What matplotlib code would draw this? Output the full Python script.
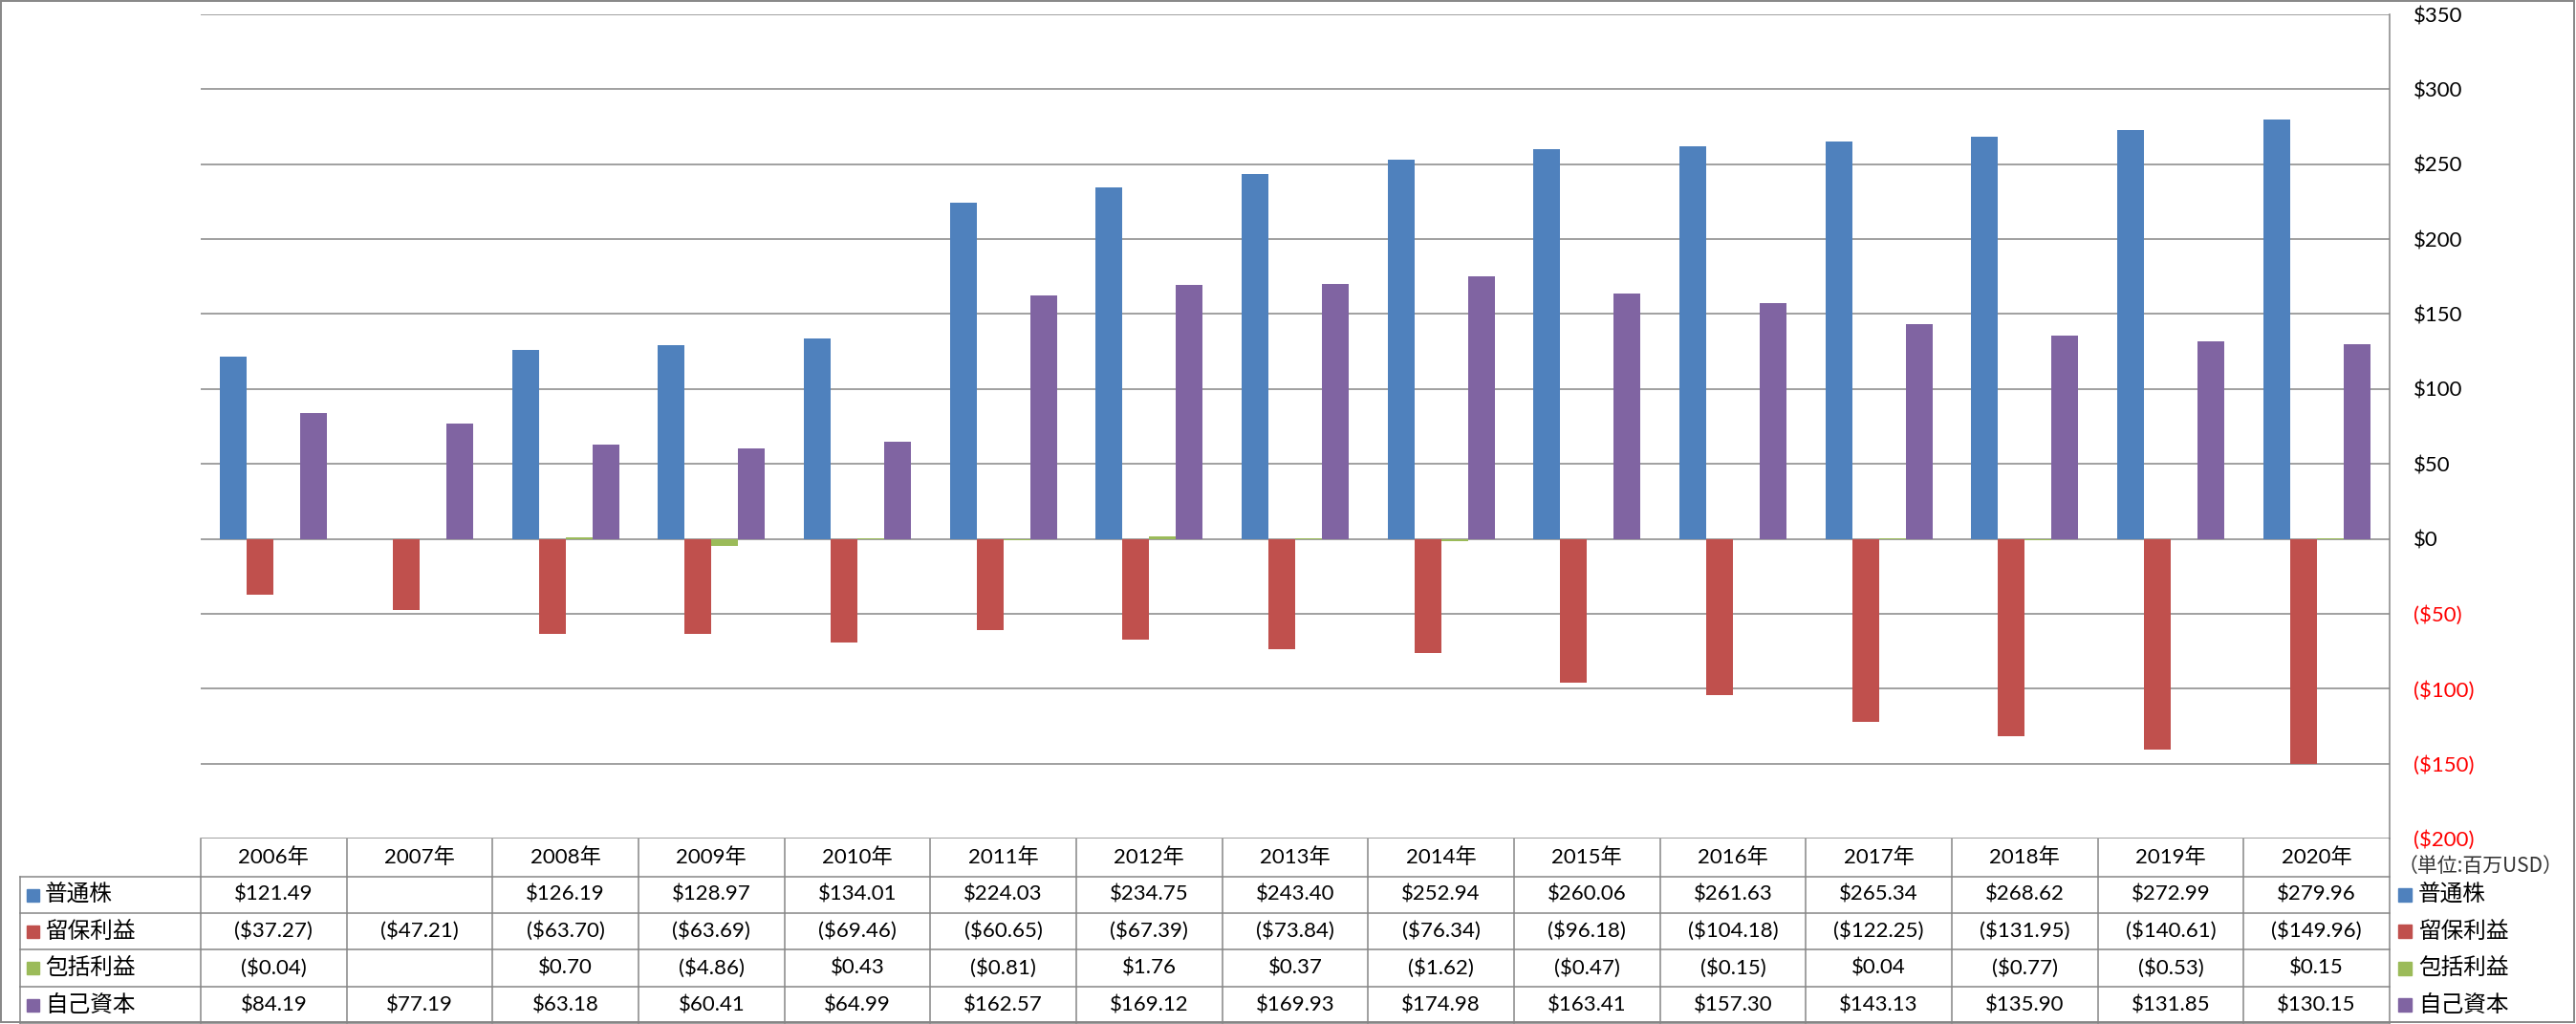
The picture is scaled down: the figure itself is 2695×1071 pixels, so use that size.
import numpy as np
import matplotlib.pyplot as plt
from matplotlib.patches import Rectangle

# データ（単位: 百万USD）
years = ['2006年', '2007年', '2008年', '2009年', '2010年', '2011年', '2012年', '2013年',
         '2014年', '2015年', '2016年', '2017年', '2018年', '2019年', '2020年']
series_names = ['普通株', '留保利益', '包括利益', '自己資本']
common_stock = [121.49, np.nan, 126.19, 128.97, 134.01, 224.03, 234.75, 243.40,
                252.94, 260.06, 261.63, 265.34, 268.62, 272.99, 279.96]
retained = [-37.27, -47.21, -63.70, -63.69, -69.46, -60.65, -67.39, -73.84,
            -76.34, -96.18, -104.18, -122.25, -131.95, -140.61, -149.96]
comprehensive = [-0.04, np.nan, 0.70, -4.86, 0.43, -0.81, 1.76, 0.37,
                 -1.62, -0.47, -0.15, 0.04, -0.77, -0.53, 0.15]
equity = [84.19, 77.19, 63.18, 60.41, 64.99, 162.57, 169.12, 169.93,
          174.98, 163.41, 157.30, 143.13, 135.90, 131.85, 130.15]
y_ticks = [-200, -150, -100, -50, 0, 50, 100, 150, 200, 250, 300, 350]

series = [common_stock, retained, comprehensive, equity]
colors = ['#4F81BD', '#C0504D', '#9BBB59', '#8064A2']
grid_c = '#868686'
num_font = ['Lato', 'Noto Sans CJK JP']
jp_font = ['Noto Sans CJK JP', 'DejaVu Sans']


def money(v):
    if np.isnan(v):
        return ''
    if v < 0:
        return '(${:,.2f})'.format(-v)
    return '${:,.2f}'.format(v)


def tick_money(v):
    if v < 0:
        return '(${:d})'.format(int(-v))
    return '${:d}'.format(int(v))


W, H = 2695, 1071
fig = plt.figure(figsize=(W / 100, H / 100), dpi=100)

# ピクセル座標で表を描くための重ね合わせ軸
ov = fig.add_axes([0, 0, 1, 1])
ov.set_xlim(0, W)
ov.set_ylim(H, 0)
ov.axis('off')

plot_l, plot_r, plot_t, plot_b = 210, 2500, 15, 877
ax = fig.add_axes([plot_l / W, (H - plot_b) / H, (plot_r - plot_l) / W, (plot_b - plot_t) / H])

n = len(years)
x = np.arange(n)
bw = 0.183
for i, (vals, c) in enumerate(zip(series, colors)):
    ax.bar(x + (i - 1.5) * bw, vals, width=bw, color=c, zorder=3)

ax.set_xlim(-0.5, n - 0.5)
ax.set_ylim(-200, 350)
ax.set_xticks([])
ax.yaxis.tick_right()
ax.set_yticks(y_ticks)
ax.set_yticklabels([tick_money(t) for t in y_ticks], fontsize=16, family=num_font)
for lbl, t in zip(ax.get_yticklabels(), y_ticks):
    lbl.set_color('#FF0000' if t < 0 else 'black')
ax.tick_params(axis='y', length=0, pad=18)
ax.grid(axis='y', color=grid_c, linewidth=1.1)
ax.set_axisbelow(True)
for s in ['left', 'top', 'bottom']:
    ax.spines[s].set_visible(False)
ax.spines['right'].set_color(grid_c)
ax.spines['right'].set_linewidth(1.1)

# データテーブル
col_w = (plot_r - plot_l) / n
row_edges = [877, 917, 955, 993, 1032, 1070]
lw = 1.1
for k in range(n + 1):
    ov.plot([plot_l + k * col_w] * 2, [row_edges[0], row_edges[-1]], color=grid_c, lw=lw)
for y in row_edges[1:]:
    ov.plot([21, plot_r], [y, y], color=grid_c, lw=lw)
ov.plot([21, 21], [row_edges[1], row_edges[-1]], color=grid_c, lw=lw)

hdr_y = (row_edges[0] + row_edges[1]) / 2
for k, yr in enumerate(years):
    ov.text(plot_l + (k + 0.5) * col_w, hdr_y, yr, ha='center', va='center',
            fontsize=16, family=num_font)

for r, (name, vals, c) in enumerate(zip(series_names, series, colors)):
    yc = (row_edges[r + 1] + row_edges[r + 2]) / 2
    ov.add_patch(Rectangle((28, yc - 6.5), 13, 13, color=c))
    ov.text(47, yc, name, ha='left', va='center', fontsize=17, family=jp_font)
    for k, v in enumerate(vals):
        ov.text(plot_l + (k + 0.5) * col_w, yc, money(v), ha='center', va='center',
                fontsize=16, family=num_font)
    # 右側の凡例
    ov.add_patch(Rectangle((2509, yc - 7), 14, 14, color=c))
    ov.text(2530, yc, name, ha='left', va='center', fontsize=17, family=jp_font)

ov.text(2595, 906, '（単位:百万USD）', ha='center', va='center', fontsize=15,
        family=jp_font, color='#333333')

# 外枠
ov.add_patch(Rectangle((1, 1), W - 3, H - 3, fill=False, edgecolor=grid_c, lw=1.4))

fig.savefig('out.png', dpi=100)
